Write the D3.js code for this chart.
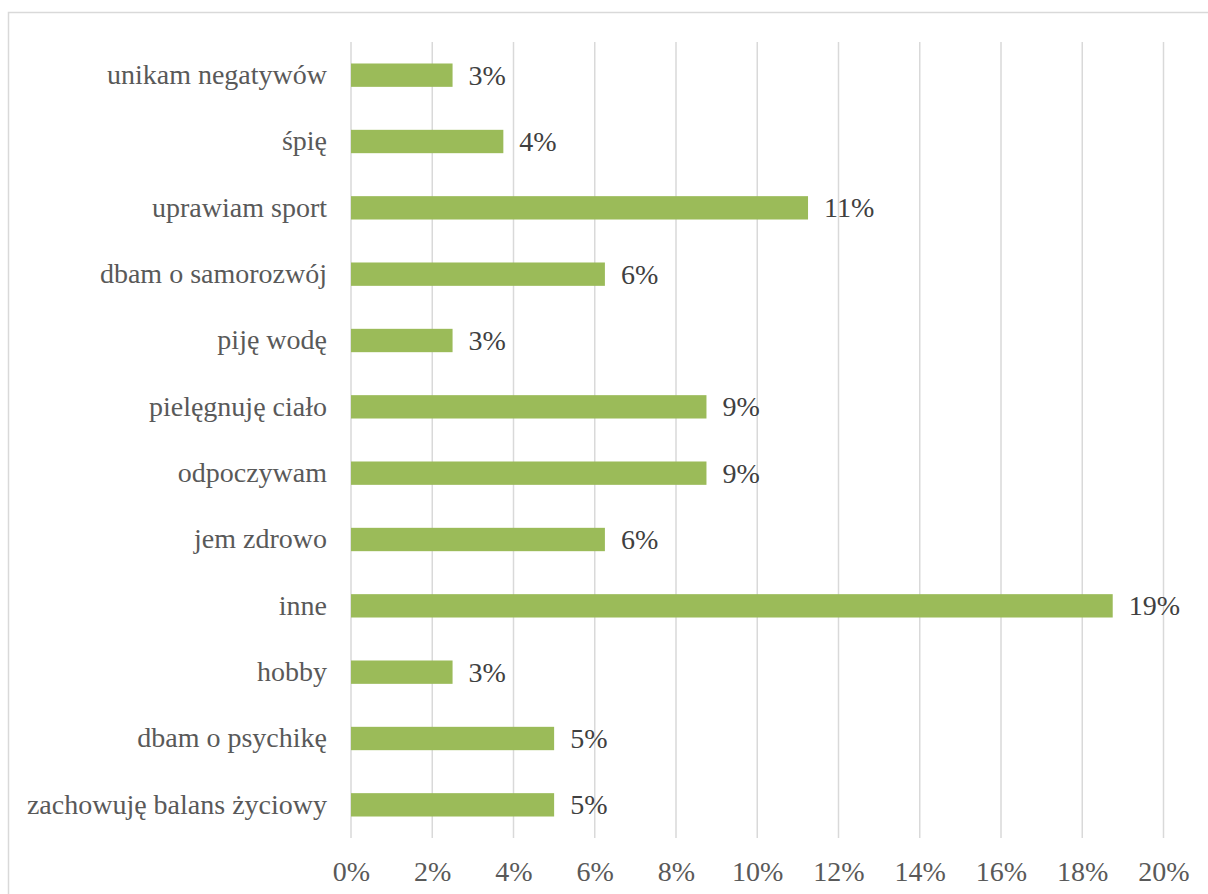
<!DOCTYPE html>
<html>
<head>
<meta charset="utf-8">
<script src="https://cdn.jsdelivr.net/npm/d3@7"></script>
<style>
  html, body { margin: 0; padding: 0; background: #fff; }
  svg { display: block; }
</style>
</head>
<body>
<svg id="chart" width="1208" height="894"></svg>
<script>
// Categories, top to bottom
const categories = [
  "unikam negatywów",
  "śpię",
  "uprawiam sport",
  "dbam o samorozwój",
  "piję wodę",
  "pielęgnuję ciało",
  "odpoczywam",
  "jem zdrowo",
  "inne",
  "hobby",
  "dbam o psychikę",
  "zachowuję balans życiowy"
];

// Share of answers, in percent
const values = [2.5, 3.75, 11.25, 6.25, 2.5, 8.75, 8.75, 6.25, 18.75, 2.5, 5, 5];

// Axis ticks, in percent
const ticks = [0, 2, 4, 6, 8, 10, 12, 14, 16, 18, 20];

const data = categories.map((c, i) => ({ category: c, value: values[i] }));

const svg = d3.select("#chart");
const font = "'Liberation Serif', 'Times New Roman', serif";

// Outer chart frame
svg.append("rect")
  .attr("x", 8.5).attr("y", 12.5)
  .attr("width", 1220).attr("height", 900)
  .attr("fill", "#fff")
  .attr("stroke", "#d9d9d9")
  .attr("stroke-width", 1.5);

const plot = { left: 351, right: 1163.5, top: 42, bottom: 838 };

const x = d3.scaleLinear().domain([0, 20]).range([plot.left, plot.right]);
const y = d3.scaleBand()
  .domain(categories)
  .range([plot.top, plot.bottom])
  .paddingInner(0.648)
  .paddingOuter(0.324);

// Vertical gridlines
svg.append("g")
  .selectAll("line")
  .data(ticks)
  .join("line")
  .attr("x1", d => x(d)).attr("x2", d => x(d))
  .attr("y1", plot.top).attr("y2", plot.bottom)
  .attr("stroke", "#d9d9d9")
  .attr("stroke-width", 1.5);

// X axis tick labels
const xAxis = d3.axisBottom(x)
  .tickValues(ticks)
  .tickFormat(d => d + "%")
  .tickSize(0)
  .tickPadding(0);

const gx = svg.append("g")
  .attr("transform", `translate(0, 881)`)
  .call(xAxis);
gx.select(".domain").remove();
gx.selectAll("text")
  .attr("dy", 0)
  .attr("y", 0)
  .attr("fill", "#595959")
  .style("font-family", font)
  .style("font-size", "28px");

// Y axis category labels
const yAxis = d3.axisLeft(y).tickSize(0).tickPadding(0);
const gy = svg.append("g")
  .attr("transform", `translate(327, 0)`)
  .call(yAxis);
gy.select(".domain").remove();
gy.selectAll("text")
  .attr("x", 0)
  .attr("dy", "0.32em")
  .attr("fill", "#595959")
  .style("font-family", font)
  .style("font-size", "28px");

// Bars
svg.append("g")
  .selectAll("rect")
  .data(data)
  .join("rect")
  .attr("x", x(0))
  .attr("y", d => y(d.category))
  .attr("width", d => x(d.value) - x(0))
  .attr("height", y.bandwidth())
  .attr("fill", "#9bbb59");

// Value labels
svg.append("g")
  .selectAll("text")
  .data(data)
  .join("text")
  .attr("x", d => x(d.value) + 16)
  .attr("y", d => y(d.category) + y.bandwidth() / 2)
  .attr("dy", "0.34em")
  .attr("fill", "#404040")
  .style("font-family", font)
  .style("font-size", "28px")
  .text(d => Math.round(d.value) + "%");
</script>
</body>
</html>
